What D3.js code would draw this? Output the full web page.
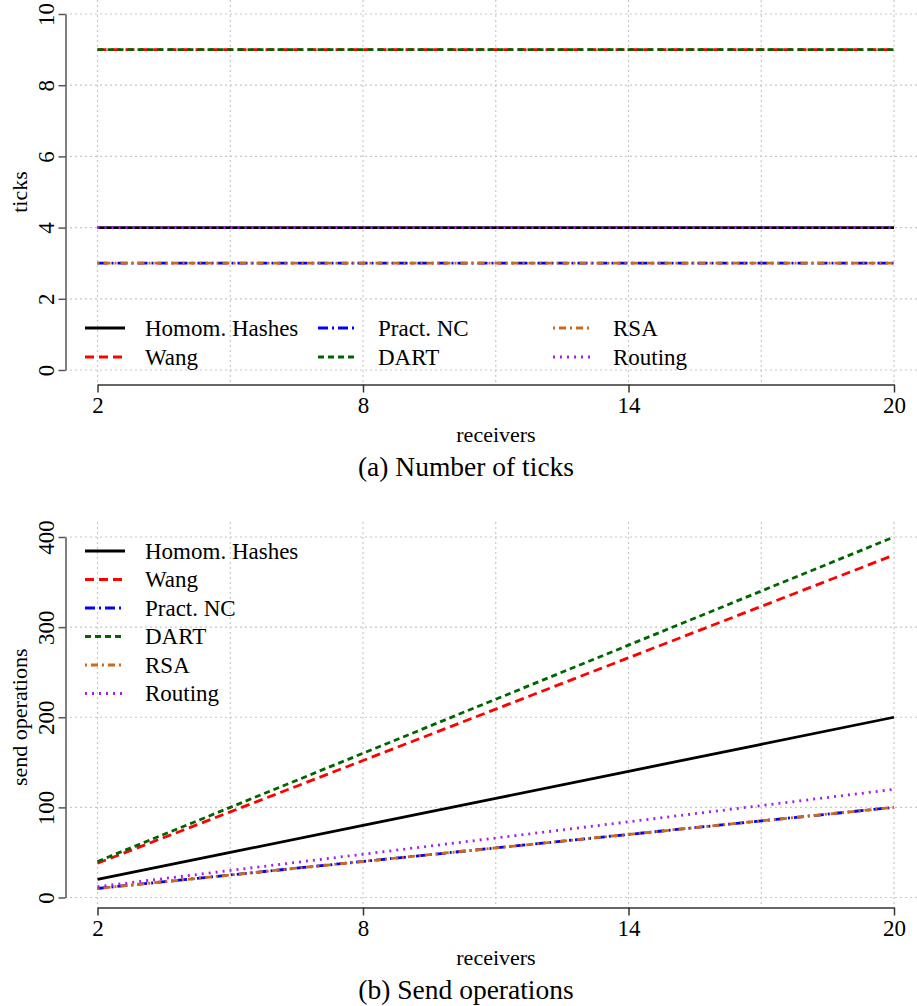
<!DOCTYPE html>
<html>
<head>
<meta charset="utf-8">
<script src="https://cdn.jsdelivr.net/npm/d3@7"></script>
<style>
  body { margin: 0; background: #fff; }
</style>
</head>
<body>
<svg id="chart" width="917" height="1006"></svg>
<script>
// receivers on the x axis
const receivers = [2, 5, 8, 11, 14, 17, 20];
const xTicks = [2, 8, 14, 20];
const xGrid = [2, 5, 8, 11, 14, 17, 20];

const seriesNames = ["Homom. Hashes", "Wang", "Pract. NC", "DART", "RSA", "Routing"];

// (a) number of ticks
const ticksHomom = [4, 4, 4, 4, 4, 4, 4];
const ticksWang = [9, 9, 9, 9, 9, 9, 9];
const ticksPractNC = [3, 3, 3, 3, 3, 3, 3];
const ticksDart = [9, 9, 9, 9, 9, 9, 9];
const ticksRsa = [3, 3, 3, 3, 3, 3, 3];
const ticksRouting = [4, 4, 4, 4, 4, 4, 4];
const ticksYTicks = [0, 2, 4, 6, 8, 10];

// (b) send operations
const sendHomom = [20, 50, 80, 110, 140, 170, 200];
const sendWang = [38, 95, 152, 209, 266, 323, 380];
const sendPractNC = [10, 25, 40, 55, 70, 85, 100];
const sendDart = [40, 100, 160, 220, 280, 340, 400];
const sendRsa = [10, 25, 40, 55, 70, 85, 100];
const sendRouting = [12, 30, 48, 66, 84, 102, 120];
const sendYTicks = [0, 100, 200, 300, 400];

const styles = [
    { color: "#000000", dash: null },
    { color: "#ff0000", dash: "9 5" },
    { color: "#0000ff", dash: "10 4 2 4" },
    { color: "#006400", dash: "6 4" },
    { color: "#cc6a1a", dash: "2 4 7 4" },
    { color: "#a020f0", dash: "2 5" }
];

const svg = d3.select("#chart");
const fontFam = "'Liberation Serif', serif";

function txt(sel, size) {
    return sel.style("font-family", fontFam).style("font-size", (size || 22) + "px").attr("fill", "#000");
}

function drawPanel(opt) {
    const g = svg.append("g");
    const x = d3.scaleLinear().domain([2, 20]).range([97.5, 894]);
    const y = d3.scaleLinear().domain(opt.yDomain).range(opt.yRange);

    // grid
    g.selectAll(".hgrid").data(opt.yTicks).join("line")
        .attr("x1", 65).attr("x2", 917)
        .attr("y1", d => y(d)).attr("y2", d => y(d))
        .attr("stroke", "#c8c8c8").attr("stroke-width", 1.2)
        .attr("stroke-dasharray", "2 3");
    g.selectAll(".vgrid").data(xGrid).join("line")
        .attr("x1", d => x(d)).attr("x2", d => x(d))
        .attr("y1", opt.top).attr("y2", opt.bottom)
        .attr("stroke", "#c8c8c8").attr("stroke-width", 1.2)
        .attr("stroke-dasharray", "2 3");

    // lines
    const line = d3.line().x((d, i) => x(receivers[i])).y(d => y(d));
    opt.series.forEach((vals, i) => {
        g.append("path")
            .attr("d", line(vals))
            .attr("fill", "none")
            .attr("stroke", styles[i].color)
            .attr("stroke-width", 2.8)
            .attr("stroke-dasharray", styles[i].dash);
    });

    // x axis
    const xAxis = g.append("g")
        .attr("transform", `translate(0, ${opt.bottom})`)
        .call(d3.axisBottom(x).tickValues(xTicks).tickSize(8).tickSizeOuter(0).tickPadding(4));
    xAxis.select(".domain").attr("stroke", "#333").attr("stroke-width", 1.5);
    xAxis.selectAll(".tick line").attr("stroke", "#333").attr("stroke-width", 1.5);
    xAxis.selectAll("text").call(txt, 23);

    // y axis
    const yAxis = g.append("g")
        .attr("transform", "translate(65.5, 0)")
        .call(d3.axisLeft(y).tickValues(opt.yTicks).tickSize(7).tickSizeOuter(0));
    yAxis.select(".domain").attr("stroke", "#555").attr("stroke-width", 1.5);
    yAxis.selectAll(".tick line").attr("stroke", "#555").attr("stroke-width", 1.5);
    yAxis.selectAll("text").call(txt, 23)
        .attr("text-anchor", "middle")
        .attr("x", 0).attr("dy", null)
        .attr("transform", "translate(-19, 0) rotate(-90)")
        .attr("dominant-baseline", "central");

    // labels
    g.append("text").call(txt, 22)
        .attr("x", 496).attr("y", opt.bottom + 57)
        .attr("text-anchor", "middle")
        .text("receivers");
    g.append("text").call(txt, 22)
        .attr("transform", `translate(27, ${(y(opt.yTicks[0]) + y(opt.yTicks[opt.yTicks.length - 1])) / 2}) rotate(-90)`)
        .attr("text-anchor", "middle")
        .text(opt.yLabel);
    g.append("text").call(txt, 27.5)
        .attr("x", 466).attr("y", opt.bottom + 91)
        .attr("text-anchor", "middle")
        .text(opt.caption);

    // legend
    opt.legend.forEach((p, i) => {
        g.append("line")
            .attr("x1", p[0]).attr("x2", p[0] + 40)
            .attr("y1", p[1]).attr("y2", p[1])
            .attr("stroke", styles[i].color)
            .attr("stroke-width", 2.8)
            .attr("stroke-dasharray", styles[i].dash);
        g.append("text").call(txt, 23)
            .attr("x", p[0] + 60).attr("y", p[1])
            .attr("dominant-baseline", "central")
            .text(seriesNames[i]);
    });
}

drawPanel({
    yDomain: [0, 10], yRange: [370, 14], top: 0, bottom: 384.5,
    yTicks: ticksYTicks, yLabel: "ticks", caption: "(a) Number of ticks",
    series: [ticksHomom, ticksWang, ticksPractNC, ticksDart, ticksRsa, ticksRouting],
    legend: [[85, 328], [85, 357], [318, 328], [318, 357], [553, 328], [553, 357]]
});

drawPanel({
    yDomain: [0, 400], yRange: [897.5, 537], top: 522, bottom: 907.5,
    yTicks: sendYTicks, yLabel: "send operations", caption: "(b) Send operations",
    series: [sendHomom, sendWang, sendPractNC, sendDart, sendRsa, sendRouting],
    legend: [[85, 551], [85, 579.5], [85, 608], [85, 636.5], [85, 665], [85, 693.5]]
});
</script>
</body>
</html>
